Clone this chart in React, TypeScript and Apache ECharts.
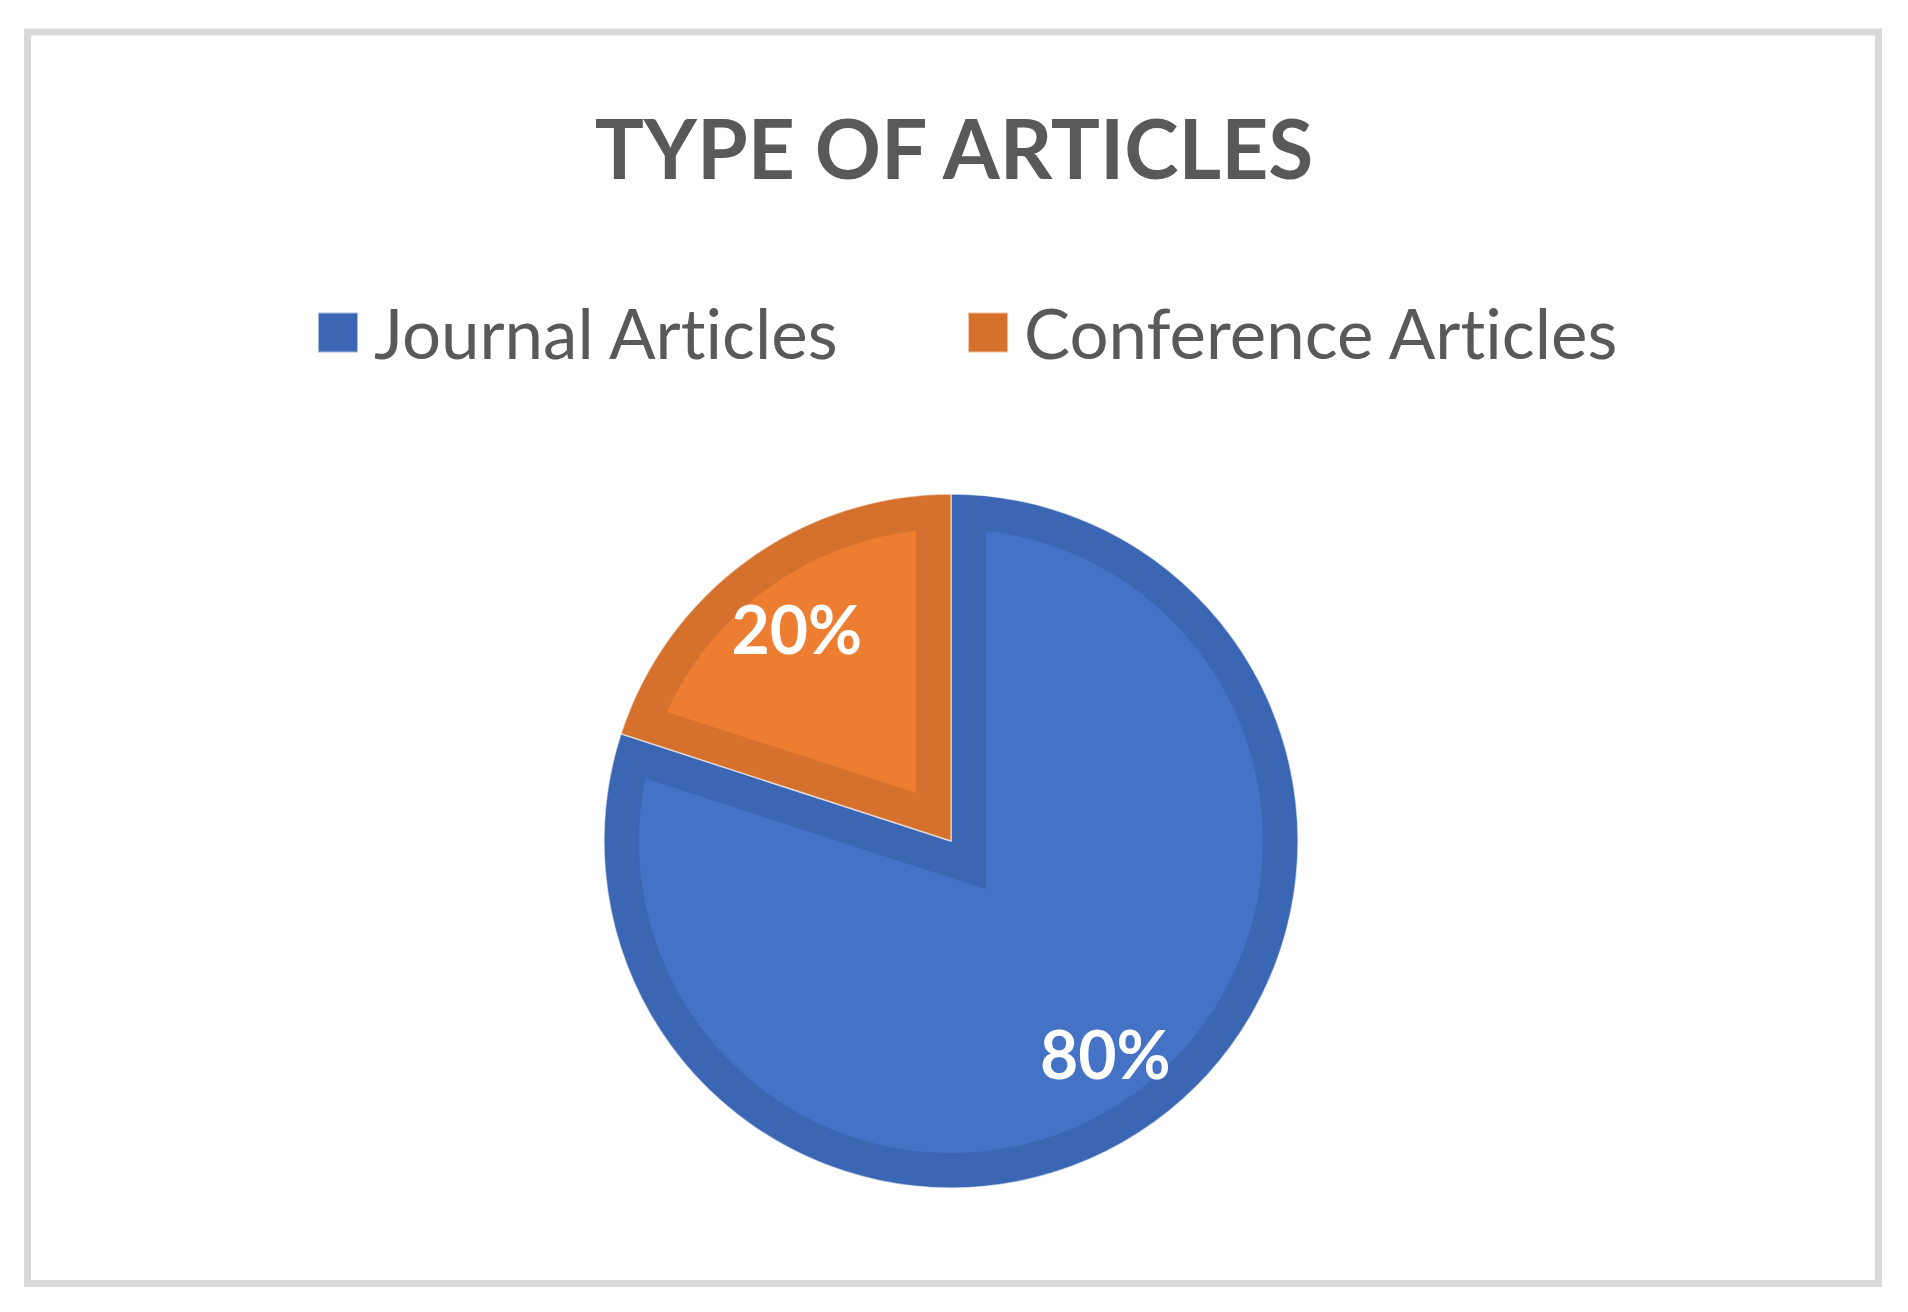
import React, { useEffect, useRef } from 'react';
import * as echarts from 'echarts';

const categories = ['Journal Articles', 'Conference Articles'];
const values = [80, 20];
const fillColors = ['#4472C4', '#ED7D31'];
const edgeColors = ['#3B66B4', '#D5712C'];
const titleText = 'TYPE OF ARTICLES';

const CX = 951;
const CY = 841;
const R = 347;
const EDGE = 35;
const FONT = 'Lato, "Open Sans", sans-serif';

export default function App() {
  const ref = useRef<HTMLDivElement>(null);
  useEffect(() => {
    const chart = echarts.init(ref.current as HTMLDivElement, null, { renderer: 'svg' });
    const total = values.reduce((a, b) => a + b, 0);

    const renderInset = (params: any, api: any) => {
      const i = params.dataIndex;
      let before = 0;
      for (let k = 0; k < i; k++) before += values[k];
      const v = api.value(0);
      const a1 = ((90 - (before / total) * 360) * Math.PI) / 180;
      const a2 = a1 - (v / total) * 2 * Math.PI;
      const ri = R - EDGE;
      const h = (a1 - a2) / 2;
      const m = (a1 + a2) / 2;
      const d = EDGE / Math.sin(h);
      const toScreen = (x: number, y: number) => [CX + x, CY - y];
      const pts: number[][] = [];
      pts.push(toScreen(d * Math.cos(m), d * Math.sin(m)));
      const off = Math.asin(EDGE / ri);
      const s = a1 - off;
      const e = a2 + off;
      const steps = Math.max(2, Math.ceil((s - e) / (Math.PI / 360)));
      for (let k = 0; k <= steps; k++) {
        const a = s - ((s - e) * k) / steps;
        pts.push(toScreen(ri * Math.cos(a), ri * Math.sin(a)));
      }
      return {
        type: 'polygon',
        shape: { points: pts },
        style: { fill: fillColors[i] },
        silent: true,
      };
    };

    chart.setOption({
      animation: false,
      backgroundColor: '#ffffff',
      title: {
        text: titleText,
        left: 'center',
        top: 101,
        textStyle: {
          fontSize: 82,
          fontWeight: 'bold',
          color: '#595959',
          fontFamily: FONT,
        },
      },
      legend: {
        data: categories,
        left: 312,
        top: 293,
        orient: 'horizontal',
        icon: 'rect',
        itemWidth: 40,
        itemHeight: 40,
        itemGap: 126,
        selectedMode: false,
        textStyle: {
          fontSize: 69,
          color: '#595959',
          fontFamily: FONT,
          padding: [0, 0, 12, 11],
        },
      },
      graphic: [
        {
          type: 'rect',
          shape: { x: 27.5, y: 32, width: 1851, height: 1251.5 },
          style: { fill: 'none', stroke: '#D9D9D9', lineWidth: 7 },
          silent: true,
        },
      ],
      series: [
        {
          type: 'pie',
          name: 'edge',
          center: [CX, CY],
          radius: R,
          startAngle: 90,
          clockwise: true,
          silent: true,
          z: 1,
          label: { show: false },
          labelLine: { show: false },
          itemStyle: { borderColor: 'rgba(255,255,255,0.55)', borderWidth: 1.5 },
          data: categories.map((n, i) => ({
            name: n,
            value: values[i],
            itemStyle: { color: edgeColors[i] },
          })),
        },
        {
          type: 'custom',
          name: 'fill',
          coordinateSystem: 'none',
          silent: true,
          z: 2,
          renderItem: renderInset,
          data: values.map((v) => [v]),
        },
        {
          type: 'pie',
          name: 'labels',
          center: [CX, CY],
          radius: [172, R],
          startAngle: 90,
          clockwise: true,
          silent: true,
          z: 3,
          itemStyle: { color: 'rgba(0,0,0,0)' },
          labelLine: { show: false },
          label: {
            show: true,
            position: 'inside',
            formatter: '{d}%',
            fontSize: 66,
            fontWeight: 'bold',
            color: '#ffffff',
            fontFamily: FONT,
          },
          data: categories.map((n, i) => ({ name: n, value: values[i] })),
        },
      ],
    });
    return () => chart.dispose();
  }, []);

  return (
    <>
      <style>{'text{font-variant-ligatures:none !important;font-feature-settings:"liga" 0,"clig" 0 !important;}'}</style>
      <div
        ref={ref}
        style={{ position: 'fixed', left: 0, top: 0, width: 1908, height: 1312, background: '#ffffff' }}
      />
    </>
  );
}
